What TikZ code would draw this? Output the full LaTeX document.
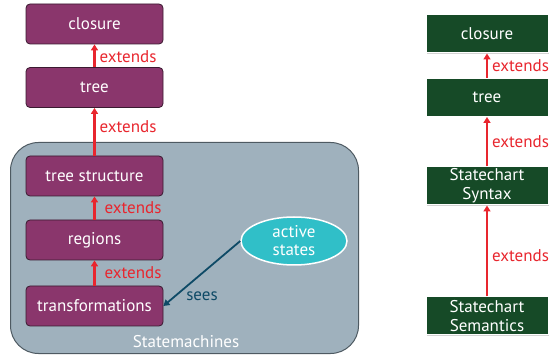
\documentclass[tikz,border=0pt]{standalone}
\usepackage{fontspec}
\setmainfont{PT Sans}
\usetikzlibrary{positioning, arrows.meta, shapes.geometric, shadows}
\definecolor{plum}{HTML}{8A366C}
\definecolor{plumedge}{HTML}{3A1A30}
\definecolor{slate}{HTML}{9FB1BD}
\definecolor{slateedge}{HTML}{4E5A62}
\definecolor{forest}{HTML}{164A27}
\definecolor{aqua}{HTML}{30BFC8}
\definecolor{extred}{HTML}{E8262E}
\definecolor{seesblue}{HTML}{0E4A66}

\begin{document}
\begin{tikzpicture}[x=1pt, y=-1pt, >=latex, font=\fontsize{17}{19}\selectfont,
    layer/.style={draw=plumedge, fill=plum, text=white, rounded corners=4pt, minimum width=137pt, minimum height=40pt, line width=0.8pt},
    module/.style={draw=white, fill=forest, text=white, minimum width=122pt, minimum height=38pt, line width=1pt, align=center, inner sep=1pt, drop shadow={shadow xshift=0.8pt, shadow yshift=-1pt, opacity=0.35}},
    ext/.style={draw=extred, line width=2.2pt, -{Triangle[width=7pt,length=6pt]}},
    extlabel/.style={text=extred, right, inner sep=4pt}]

    \useasboundingbox (0,0) rectangle (552,358);

    % ===== Statemachines container =====
    \node[draw=slateedge, fill=slate, rounded corners=28pt, line width=1pt, minimum width=348pt, minimum height=211pt] (SM) at (184.5,248) {};
    \node[text=white] (SMlabel) at (186,342) {Statemachines};

    % ===== left stack =====
    \node[layer] (closureL)   at (94.5,24)  {closure};
    \node[layer] (treeL)      at (94.5,87.5) {tree};
    \node[layer] (treestruct) at (94.5,176) {tree structure};
    \node[layer] (regions)    at (94.5,240) {regions};
    \node[layer] (transf)     at (94.5,306) {transformations};

    \node[ellipse, draw=white, fill=aqua, text=white, line width=1.5pt, minimum width=106pt, minimum height=48pt, align=center, inner sep=0pt, font=\fontsize{17}{18}\selectfont] (active) at (294,241) {active\\states};

    \draw[ext] (treeL.north) -- (closureL.south) node[extlabel, pos=0.45] {extends};
    \draw[ext] (treestruct.north) -- (treeL.south) node[extlabel, pos=0.6] {extends};
    \draw[ext] (regions.north) -- (treestruct.south) node[extlabel, pos=0.5, xshift=5pt] {extends};
    \draw[ext] (transf.north) -- (regions.south) node[extlabel, pos=0.5, xshift=5pt] {extends};

    \draw[draw=seesblue, line width=1.8pt, -{Triangle[width=7pt,length=6pt]}] (active.west) -- (transf.east);
    \node[text=seesblue] (seeslabel) at (202,296) {sees};

    % ===== right stack =====
    \node[module] (closureR)  at (487,34)  {closure};
    \node[module] (treeR)     at (487,97.5) {tree};
    \node[module] (syntax)    at (487,186) {Statechart\\Syntax};
    \node[module] (semantics) at (487,316) {Statechart\\Semantics};

    \draw[ext] (treeR.north) -- (closureR.south) node[extlabel, pos=0.5] {extends};
    \draw[ext] (syntax.north) -- (treeR.south) node[extlabel, pos=0.5] {extends};
    \draw[ext] (semantics.north) -- (syntax.south) node[extlabel, pos=0.45] {extends};

\end{tikzpicture}
\end{document}
